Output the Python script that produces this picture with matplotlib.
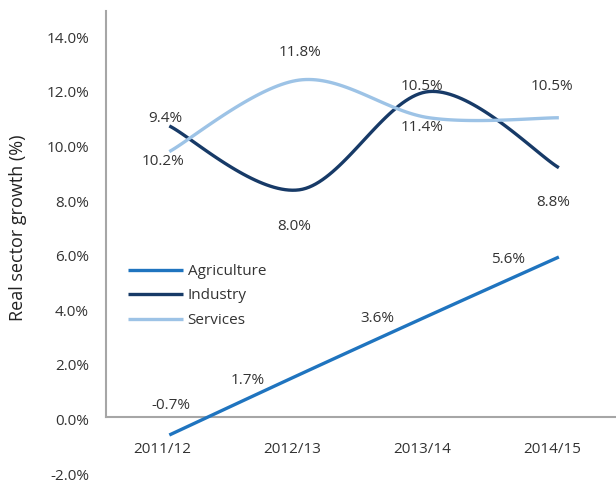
import numpy as np
import matplotlib
matplotlib.use("Agg")
import matplotlib.pyplot as plt
import matplotlib.transforms as mtransforms

# ---- data ----
categories = ["2011/12", "2012/13", "2013/14", "2014/15"]
series_names = ["Agriculture", "Industry", "Services"]
agriculture = [-0.66, 1.55, 3.72, 5.86]
industry = [10.66, 8.32, 11.92, 9.13]
services = [9.72, 12.34, 10.96, 10.96]
agriculture_labels = ["-0.7%", "1.7%", "3.6%", "5.6%"]
industry_labels = ["9.4%", "8.0%", "10.5%", "8.8%"]
services_labels = ["10.2%", "11.8%", "11.4%", "10.5%"]
yticks = [-2, 0, 2, 4, 6, 8, 10, 12, 14]

colors = {"Agriculture": "#1F74BF", "Industry": "#173A67", "Services": "#9DC3E6"}
text_color = "#333333"
FS = 11

plt.rcParams['font.family'] = ['Open Sans', 'DejaVu Sans']

W, H = 616, 483
fig = plt.figure(figsize=(W / 100, H / 100), dpi=100)

# axes placement in pixels
ax_left, ax_right = 105.7, 616.0
ax_top, ax_bottom = 11.0, 471.6
ax = fig.add_axes([ax_left / W, (H - ax_bottom) / H, (ax_right - ax_left) / W, (ax_bottom - ax_top) / H])
ymin, ymax = -2.0, 14.87
ax.set_ylim(ymin, ymax)
ax.set_xlim(-0.49, 3.44)


def smooth(x, y, n=40):
    x = np.asarray(x, float)
    y = np.asarray(y, float)
    px = np.concatenate([[x[0]], x, [x[-1]]])
    py = np.concatenate([[y[0]], y, [y[-1]]])
    xs, ys = [], []
    t = np.linspace(0, 1, n)
    for i in range(1, len(px) - 2):
        p0 = np.array([px[i], py[i]])
        p3 = np.array([px[i + 1], py[i + 1]])
        c1 = p0 + (np.array([px[i + 1], py[i + 1]]) - np.array([px[i - 1], py[i - 1]])) / 6
        c2 = p3 - (np.array([px[i + 2], py[i + 2]]) - np.array([px[i], py[i]])) / 6
        b = ((1 - t) ** 3)[:, None] * p0 + (3 * (1 - t) ** 2 * t)[:, None] * c1 \
            + (3 * (1 - t) * t ** 2)[:, None] * c2 + (t ** 3)[:, None] * p3
        xs.extend(b[:, 0])
        ys.extend(b[:, 1])
    return np.array(xs), np.array(ys)


xpos = np.arange(len(categories))
data = {"Agriculture": agriculture, "Industry": industry, "Services": services}
for name in series_names:
    sx, sy = smooth(xpos, data[name])
    ax.plot(sx, sy, color=colors[name], lw=2.4, label=name, solid_capstyle='butt', zorder=3)

# data labels (offsets in pixels)
label_sets = [
    (agriculture, agriculture_labels, [(2, 30), (-51, -6), (-52, -3), (-51, -3)]),
    (industry, industry_labels, [(-4, 7), (-5, -37), (-7, 5), (-6, -35)]),
    (services, services_labels, [(-6, -10), (1, 28), (-7, -10), (-7, 31)]),
]
for vals, labs, offs in label_sets:
    for i, (v, lab, off) in enumerate(zip(vals, labs, offs)):
        ax.annotate(lab, (xpos[i], v), xytext=off, textcoords='offset pixels',
                    ha='center', va='center', fontsize=FS, color=text_color, zorder=4)

# spines
for s in ["top", "right"]:
    ax.spines[s].set_visible(False)
ax.spines["left"].set_bounds(0, ymax)
ax.spines["bottom"].set_position(("data", 0))
for s in ["left", "bottom"]:
    ax.spines[s].set_color("#A6A6A6")
    ax.spines[s].set_linewidth(1.5)

ax.set_yticks(yticks)
ax.set_yticklabels([f"{v:.1f}%" for v in yticks])
ax.set_xticks(xpos)
ax.set_xticklabels(categories)
ax.tick_params(axis='y', length=0, pad=12, labelsize=FS, labelcolor=text_color)
ax.tick_params(axis='x', length=0, pad=18, labelsize=FS, labelcolor=text_color)
shift_x = mtransforms.ScaledTranslation(-7 / 100, 0, fig.dpi_scale_trans)
for lbl in ax.get_xticklabels():
    lbl.set_transform(lbl.get_transform() + shift_x)
shift_y = mtransforms.ScaledTranslation(0, -2.5 / 100, fig.dpi_scale_trans)
for lbl in ax.get_yticklabels():
    lbl.set_transform(lbl.get_transform() + shift_y)
ax.patch.set_visible(False)

fig.text(18 / W, 1 - 228 / H, "Real sector growth (%)", rotation=90, ha='center', va='center',
         fontsize=13, color='#222222')

leg = ax.legend(loc='upper left', bbox_to_anchor=(128 / W, 1 - 264 / H), bbox_transform=fig.transFigure,
                frameon=False, borderpad=0, borderaxespad=0, handlelength=3.6, handletextpad=0.3,
                labelspacing=0.62, fontsize=FS)
for t in leg.get_texts():
    t.set_color(text_color)

fig.savefig("out.png", dpi=100)
